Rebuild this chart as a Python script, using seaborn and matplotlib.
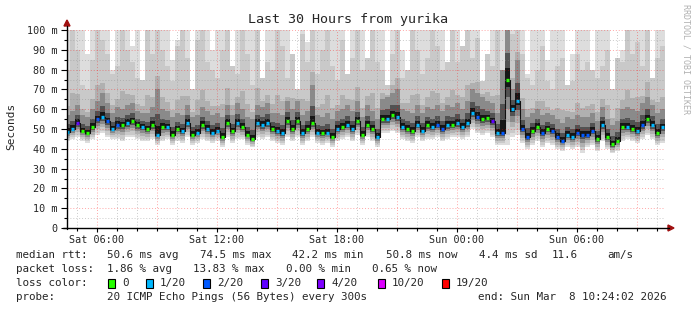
import numpy as np
import pandas as pd
import matplotlib
matplotlib.use("Agg")
import matplotlib.pyplot as plt
import seaborn as sns
from matplotlib.lines import Line2D
from matplotlib.patches import Polygon, Rectangle

sns.set_style("white")
plt.rcParams['font.family'] = ['DejaVu Sans Mono']

# ---- data: 15-minute columns starting Sat 04:24 (hours since Sat 00:00) ----
median = [48.6, 50, 53, 49, 48, 51, 55, 56, 54, 50, 52, 52, 53, 54, 52, 51, 50, 52, 47, 51, 51, 47, 50, 49, 53, 47, 48, 52, 50, 48,
          49, 46, 53, 49, 53, 51, 47, 45, 53, 52, 53, 50, 49, 48, 54, 50, 54, 48, 50, 53, 48, 48, 48, 46, 50, 51, 52, 50, 54, 47,
          52, 50, 46, 55, 55, 57, 56, 51, 50, 49, 52, 49, 52, 51, 52, 50, 52, 52, 53, 51, 53, 58, 56, 55, 55.5, 54, 48, 48, 74.5, 60,
          64, 50, 46, 49, 51, 48, 50, 49, 46, 44, 47, 46, 48, 47, 47, 49, 45, 52, 46, 42.2, 44, 51, 51, 50, 49, 52, 55, 52, 48, 50.8]
loss = [1, 1, 3, 0, 0, 0, 2, 1, 2, 1, 2, 0, 1, 0, 0, 1, 0, 0, 1, 0, 1, 0, 0, 1, 1, 0, 1, 0, 1, 1,
        1, 0, 0, 0, 1, 0, 0, 0, 1, 1, 1, 0, 1, 1, 0, 0, 0, 1, 0, 0, 1, 0, 1, 0, 1, 0, 1, 1, 0, 0,
        0, 0, 1, 0, 1, 0, 1, 1, 0, 0, 1, 1, 0, 1, 2, 2, 1, 0, 1, 1, 1, 1, 2, 0, 0, 3, 1, 2, 0, 1,
        1, 2, 2, 0, 0, 2, 0, 2, 2, 2, 1, 1, 2, 2, 2, 2, 0, 1, 0, 0, 0, 0, 1, 0, 1, 2, 0, 1, 0, 1]
low = [44, 45, 46, 44, 43, 45, 47, 48, 46, 45, 45, 44, 46, 46, 45, 44, 44, 45, 42, 44, 45, 42, 44, 43, 46, 42, 43, 45, 44, 43,
       44, 41, 46, 43, 45, 45, 42, 41, 46, 45, 46, 44, 43, 42, 46, 44, 46, 42, 44, 46, 43, 42, 43, 41, 44, 45, 46, 44, 47, 42,
       46, 44, 41, 48, 48, 49, 48, 45, 44, 43, 46, 44, 45, 45, 46, 44, 45, 46, 46, 45, 46, 50, 48, 47, 48, 46, 42, 42, 42, 46,
       47, 43, 40, 42, 44, 41, 43, 42, 40, 39, 41, 40, 41, 38, 41, 42, 39, 44, 40, 38, 39, 44, 45, 44, 43, 45, 47, 45, 42, 43]
dark_top = [57, 59, 62, 57, 56, 60, 64, 68, 63, 58, 61, 60, 62, 63, 59, 58, 58, 61, 70, 60, 59, 56, 58, 57, 62, 56, 57, 61, 59, 57,
            58, 56, 62, 57, 63, 60, 56, 55, 62, 61, 63, 58, 58, 57, 64, 60, 64, 57, 59, 72, 57, 56, 58, 55, 59, 60, 62, 59, 64, 56,
            62, 59, 55, 65, 66, 68, 70, 60, 59, 58, 62, 58, 61, 60, 62, 59, 62, 61, 63, 60, 64, 70, 68, 66, 64, 63, 58, 80, 105, 70,
            85, 60, 56, 58, 60, 57, 58, 57, 55, 53, 56, 55, 57, 56, 56, 58, 54, 61, 55, 52, 54, 60, 61, 60, 59, 63, 66, 62, 58, 60]
mid_top = [80, 105, 90, 72, 70, 85, 105, 95, 88, 78, 82, 105, 90, 84, 76, 80, 105, 88, 105, 90, 82, 74, 92, 105, 86, 78, 95, 105, 84, 80,
           76, 90, 105, 82, 78, 105, 88, 72, 105, 95, 84, 80, 105, 92, 76, 88, 105, 98, 84, 105, 78, 90, 105, 82, 75, 95, 105, 86, 100, 80,
           92, 105, 84, 80, 105, 88, 100, 76, 82, 105, 90, 78, 86, 105, 92, 80, 88, 105, 84, 92, 105, 86, 96, 105, 88, 82, 105, 78, 105, 98,
           105, 88, 76, 72, 80, 92, 74, 70, 82, 86, 78, 74, 88, 80, 84, 105, 76, 82, 90, 72, 95, 84, 105, 88, 94, 82, 105, 90, 86, 92]
max_ping = [105, 105, 105, 105, 88, 105, 105, 105, 105, 80, 105, 105, 105, 92, 105, 75, 105, 105, 105, 105, 105, 85, 95, 105, 105, 70, 105, 105, 105, 90,
            105, 105, 105, 82, 105, 105, 105, 105, 105, 76, 105, 105, 105, 105, 105, 88, 70, 105, 94, 105, 105, 105, 105, 105, 105, 105, 78, 105, 105, 105,
            86, 105, 105, 105, 72, 105, 105, 90, 80, 105, 105, 105, 105, 105, 105, 105, 84, 105, 105, 92, 105, 105, 105, 74, 88, 105, 105, 105, 105, 105,
            105, 105, 78, 105, 105, 105, 85, 105, 105, 105, 72, 88, 105, 105, 105, 80, 105, 105, 105, 70, 86, 90, 105, 105, 105, 105, 105, 76, 105, 105]

loss_labels = ["0", "1/20", "2/20", "3/20", "4/20", "10/20", "19/20"]
loss_colors = ["#26ff00", "#00b8ff", "#0059ff", "#5e00ff", "#7e00ff", "#dd00ff", "#ff0000"]
xtick_hours = [6, 12, 18, 24, 30]
xtick_labels = ["Sat 06:00", "Sat 12:00", "Sat 18:00", "Sun 00:00", "Sun 06:00"]
ytick_vals = [0, 10, 20, 30, 40, 50, 60, 70, 80, 90, 100]
ytick_labels = ["0"] + [f"{v} m" for v in ytick_vals[1:]]

W, H = 697, 310
fig = plt.figure(figsize=(W / 100, H / 100), dpi=100)
ax = fig.add_axes([67 / W, (H - 228) / H, 598 / W, 198 / H])

t0, step = 4.4, 0.25
n = len(median)
edges = t0 + step * np.arange(n + 1)
med = np.array(median, float)
lo = np.array(low, float)
h1 = np.array(dark_top, float)
mxa = np.array(max_ping, float)
h2 = np.minimum(np.array(mid_top, float), mxa)
d = med - lo

def band(bottom, top, color, z):
    ax.fill_between(edges, np.append(bottom, bottom[-1]), np.append(top, top[-1]),
                    step='post', color=color, lw=0, zorder=z)

band(lo, mxa, "#dddddd", 1)
band(lo + 0.15 * d, h2, "#c9c9c9", 2)
band(lo + 0.35 * d, h1 + 0.2 * (h2 - h1), "#b0b0b0", 3)
band(lo + 0.55 * d, h1, "#8a8a8a", 4)
band(lo + 0.75 * d, med + 0.45 * (h1 - med), "#525252", 5)
band(lo + 0.9 * d, med + 0.2 * (h1 - med), "#161616", 6)

df = pd.DataFrame({"t": edges[:-1], "median": med,
                   "loss": [loss_labels[k] for k in loss]})
sns.lineplot(data=df, x="t", y="median", drawstyle="steps-post", color="#111111",
             lw=0.8, ax=ax, zorder=7)
ax.hlines(med, edges[:-1] + 0.03, edges[1:] - 0.06,
          colors=[loss_colors[k] for k in loss], lw=2.4, zorder=8)

ax.set_xlim(4.5, 34.4)
ax.set_ylim(0, 100)

# grid (on top, as rrdtool draws it)
for v in np.arange(5, 100, 10):
    ax.axhline(v, color=(0.55, 0.55, 0.55, 0.45), lw=0.7, ls=(0, (1, 2)), zorder=9)
for v in range(10, 101, 10):
    ax.axhline(v, color=(1, 0, 0, 0.35), lw=0.7, ls=(0, (1, 2)), zorder=10)
for h in range(5, 35):
    if h % 3 == 0:
        ax.axvline(h, color=(1, 0, 0, 0.35), lw=0.7, ls=(0, (1, 2)), zorder=10)
    else:
        ax.axvline(h, color=(0.55, 0.55, 0.55, 0.45), lw=0.7, ls=(0, (1, 2)), zorder=9)

for s in ax.spines.values():
    s.set_visible(False)
ax.set_xlabel("")
ax.set_ylabel("")
ax.set_yticks(ytick_vals)
ax.set_yticklabels(ytick_labels, fontsize=7.3)
ax.set_yticks(np.arange(5, 100, 10), minor=True)
ax.set_xticks(xtick_hours)
ax.set_xticklabels(xtick_labels, fontsize=7.3)
ax.set_xticks([h for h in range(5, 35) if h % 6], minor=True)
ax.tick_params(axis='y', which='major', length=4, width=0.8, pad=3, color='black', left=True)
ax.tick_params(axis='y', which='minor', length=2, width=0.8, color='black', left=True)
ax.tick_params(axis='x', which='major', length=3, width=0.8, pad=2, color='black', bottom=True)
ax.tick_params(axis='x', which='minor', length=2, width=0.8, color='black', bottom=True)

# axes lines with arrows
fx = lambda x: x / W
fy = lambda y: 1 - y / H
fig.add_artist(Line2D([fx(67), fx(67)], [fy(229), fy(26)], color='black', lw=1.0))
fig.add_artist(Line2D([fx(63), fx(669)], [fy(228), fy(228)], color='black', lw=1.0))
fig.add_artist(Polygon([[fx(64), fy(26)], [fx(70), fy(26)], [fx(67), fy(20)]],
                       closed=True, color='#a01010', transform=fig.transFigure))
fig.add_artist(Polygon([[fx(668), fy(225)], [fx(668), fy(231)], [fx(674), fy(228)]],
                       closed=True, color='#a01010', transform=fig.transFigure))

# titles
fig.text(fx(348), fy(19), "Last 30 Hours from yurika", fontsize=9.6, ha='center', va='center')
fig.text(fx(11), fy(126), "Seconds", fontsize=8, rotation=90, ha='center', va='center')
fig.text(fx(686), fy(59), "RRDTOOL / TOBI OETIKER", fontsize=6, rotation=-90,
         ha='center', va='center', color='#b0b0b0')

fs = 7.8
def t(x, y, s):
    fig.text(fx(x), fy(y), s, fontsize=fs, ha='left', va='center')

y1, y2, y3, y4 = 255, 269, 283, 297
t(16, y1, "median rtt:")
t(107, y1, "50.6 ms avg")
t(200, y1, "74.5 ms max")
t(292, y1, "42.2 ms min")
t(386, y1, "50.8 ms now")
t(479, y1, "4.4 ms sd")
t(552, y1, "11.6")
t(607, y1, "am/s")

t(16, y2, "packet loss:")
t(107, y2, "1.86 % avg")
t(193, y2, "13.83 % max")
t(286, y2, "0.00 % min")
t(372, y2, "0.65 % now")

t(16, y3, "loss color:")
box_x = [108, 146, 203, 261, 317, 378, 442]
for bx, lab, col in zip(box_x, loss_labels, loss_colors):
    fig.add_artist(Rectangle((fx(bx), fy(y3 + 4.5)), 7 / W, 9 / H, transform=fig.transFigure,
                             facecolor=col, edgecolor='black', lw=0.8))
    t(bx + 14, y3, lab)

t(16, y4, "probe:")
t(107, y4, "20 ICMP Echo Pings (56 Bytes) every 300s")
t(478, y4, "end: Sun Mar  8 10:24:02 2026")

fig.savefig("out.png", dpi=100, facecolor='white')
